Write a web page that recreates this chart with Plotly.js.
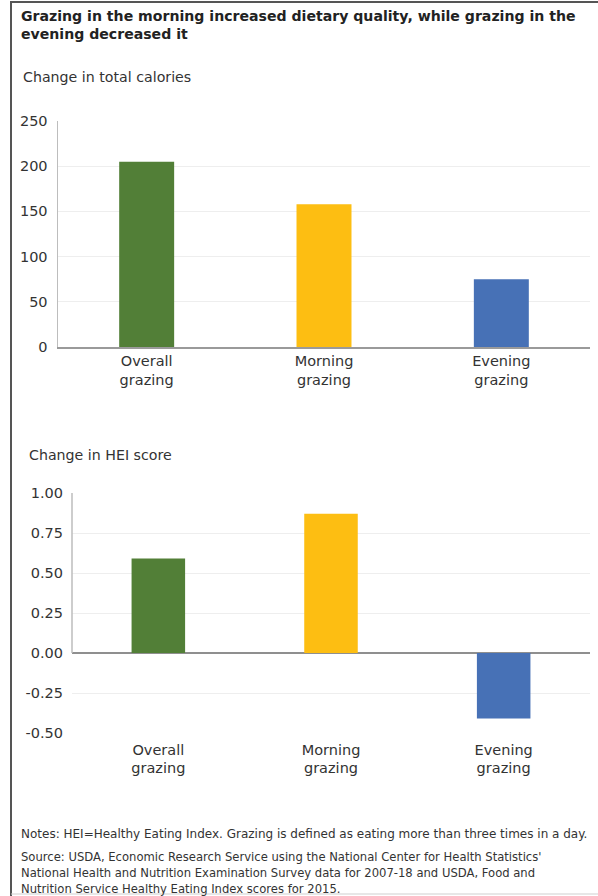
<!DOCTYPE html>
<html>
<head>
<meta charset="utf-8">
<script src="https://cdn.plot.ly/plotly-3.0.1.min.js"></script>
<style>
  html, body { margin: 0; padding: 0; background: #fff; }
  #chart { width: 598px; height: 896px; }
</style>
</head>
<body>
<div id="chart"></div>
<script>
// ---- Data ----
const categories = ["Overall<br>grazing", "Morning<br>grazing", "Evening<br>grazing"];
const calorieChange = [205, 158, 75];
const heiChange = [0.59, 0.87, -0.41];
const barColors = ["#527F37", "#FDBE12", "#4771B6"];
const calorieTicks = [0, 50, 100, 150, 200, 250];
const heiTicks = [-0.5, -0.25, 0, 0.25, 0.5, 0.75, 1.0];
const heiTickText = ["-0.50", "-0.25", "0.00", "0.25", "0.50", "0.75", "1.00"];

const W = 598, H = 896;
const py = p => 1 - p / H;
const px = p => p / W;

const FONT = "DejaVu Sans, Open Sans, sans-serif";
const TXT = "#333333";

const traces = [
  {
    type: "bar", x: categories, y: calorieChange, xaxis: "x", yaxis: "y",
    marker: { color: barColors }, width: 0.31, hoverinfo: "skip", showlegend: false
  },
  {
    type: "bar", x: categories, y: heiChange, xaxis: "x2", yaxis: "y2",
    marker: { color: barColors }, width: 0.31, hoverinfo: "skip", showlegend: false
  }
];

const layout = {
  width: W, height: H,
  margin: { l: 0, r: 0, t: 0, b: 0 },
  paper_bgcolor: "#ffffff", plot_bgcolor: "#ffffff",
  font: { family: FONT, color: TXT, size: 13 },
  showlegend: false,
  xaxis: {
    domain: [px(58), px(590)], anchor: "y",
    showgrid: false, showline: true, linecolor: "#9a9a9a", linewidth: 1.5,
    ticks: "", tickfont: { size: 14.5, color: TXT }, ticklabelstandoff: 0,
    fixedrange: true
  },
  yaxis: {
    domain: [py(347), py(121)], anchor: "x",
    range: [0, 250], tickvals: calorieTicks,
    showgrid: true, gridcolor: "#eeeeee", gridwidth: 1,
    showline: true, linecolor: "#bdbdbd", linewidth: 1.5,
    zeroline: false, ticks: "", tickfont: { size: 14.5, color: TXT },
    ticklabelstandoff: 6, fixedrange: true
  },
  xaxis2: {
    domain: [px(72), px(590)], anchor: "y2",
    showgrid: false, showline: false,
    ticks: "", tickfont: { size: 14.5, color: TXT }, ticklabelstandoff: 6,
    fixedrange: true
  },
  yaxis2: {
    domain: [py(733), py(493)], anchor: "x2",
    range: [-0.5, 1.0], tickvals: heiTicks, ticktext: heiTickText,
    showgrid: true, gridcolor: "#eeeeee", gridwidth: 1,
    showline: false, zeroline: true, zerolinecolor: "#8f8f8f", zerolinewidth: 1.5,
    ticks: "", tickfont: { size: 14.5, color: TXT },
    ticklabelstandoff: 8, fixedrange: true
  },
  shapes: [
    // frame
    { type: "line", xref: "paper", yref: "paper", x0: px(11), x1: 1, y0: py(2), y1: py(2),
      line: { color: "#555555", width: 2 } },
    { type: "line", xref: "paper", yref: "paper", x0: px(11), x1: px(11), y0: py(1), y1: py(896),
      line: { color: "#555555", width: 2 } },
    { type: "line", xref: "paper", yref: "paper", x0: px(11), x1: 1, y0: py(894), y1: py(894),
      line: { color: "#cfcfcf", width: 1 } },
    // y-axis line of lower chart, drawn from 0 to 1.00
    { type: "line", xref: "x2 domain", yref: "y2", x0: 0, x1: 0, y0: 0, y1: 1.0,
      line: { color: "#bdbdbd", width: 1.5 } }
  ],
  annotations: [
    { text: "<b>Grazing in the morning increased dietary quality, while grazing in the</b>",
      xref: "paper", yref: "paper", x: px(19), y: py(16), xanchor: "left", yanchor: "middle",
      showarrow: false, font: { size: 14.1, color: "#222222", family: FONT } },
    { text: "<b>evening decreased it</b>",
      xref: "paper", yref: "paper", x: px(19), y: py(34), xanchor: "left", yanchor: "middle",
      showarrow: false, font: { size: 14.1, color: "#222222", family: FONT } },
    { text: "Change in total calories", xref: "paper", yref: "paper", x: px(21), y: py(77),
      xanchor: "left", yanchor: "middle", showarrow: false, font: { size: 14.2, color: TXT } },
    { text: "Change in HEI score", xref: "paper", yref: "paper", x: px(27), y: py(455),
      xanchor: "left", yanchor: "middle", showarrow: false, font: { size: 14.2, color: TXT } },
    { text: "Notes: HEI=Healthy Eating Index. Grazing is defined as eating more than three times in a day.",
      xref: "paper", yref: "paper", x: px(19), y: py(834), xanchor: "left", yanchor: "middle",
      showarrow: false, font: { size: 12, color: TXT } },
    { text: "Source: USDA, Economic Research Service using the National Center for Health Statistics'",
      xref: "paper", yref: "paper", x: px(19), y: py(857), xanchor: "left", yanchor: "middle",
      showarrow: false, font: { size: 11.6, color: TXT } },
    { text: "National Health and Nutrition Examination Survey data for 2007-18 and USDA, Food and",
      xref: "paper", yref: "paper", x: px(19), y: py(873), xanchor: "left", yanchor: "middle",
      showarrow: false, font: { size: 11.6, color: TXT } },
    { text: "Nutrition Service Healthy Eating Index scores for 2015.",
      xref: "paper", yref: "paper", x: px(19), y: py(889), xanchor: "left", yanchor: "middle",
      showarrow: false, font: { size: 11.6, color: TXT } }
  ]
};

Plotly.newPlot("chart", traces, layout, { staticPlot: true, displayModeBar: false });
</script>
</body>
</html>
